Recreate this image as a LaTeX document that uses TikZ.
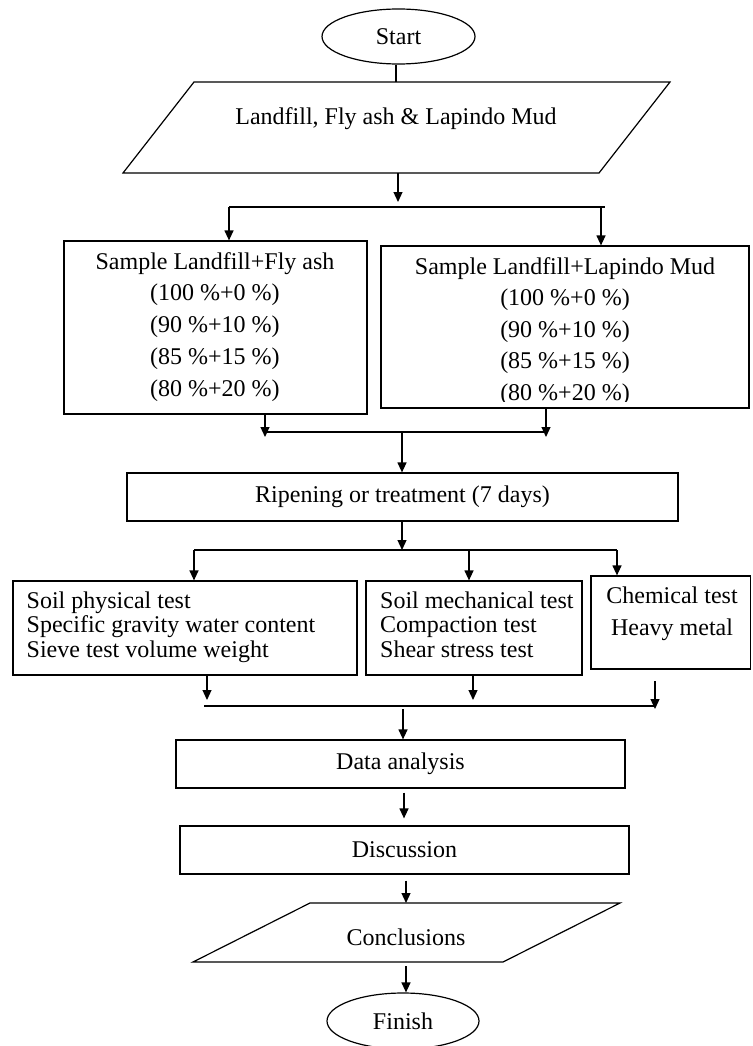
\documentclass[tikz,border=0pt]{standalone}
\usepackage{fontspec}
\setmainfont{Liberation Serif}
\usetikzlibrary{arrows.meta,shapes.geometric}
\tikzset{
  box/.style={draw, line width=1.2pt, inner sep=0pt, rectangle},
  oval/.style={draw, line width=1.2pt, inner sep=0pt, ellipse},
  para/.style={draw, line width=1.2pt, line join=miter},
  lbl/.style={inner sep=0pt, align=center},
  lblleft/.style={inner sep=0pt, align=left, anchor=west},
  conn/.style={line width=1.2pt},
  arr/.style={line width=1.2pt, -{Triangle[length=10pt,width=9pt]}},
  fat/.style={line width=2.2pt},
  f24/.style={font=\fontsize{24}{31.75}\selectfont},
}
\begin{document}
\begin{tikzpicture}[x=1pt,y=-1pt]
\useasboundingbox (0,0) rectangle (752,1046);

% Start
\node[oval, f24, minimum width=153, minimum height=55] (start) at (398.5,36.5) {Start};

% input parallelogram
\coordinate (p1a) at (194,82);
\coordinate (p1b) at (670,82);
\coordinate (p1c) at (599,173);
\coordinate (p1d) at (123,173);
\draw[para] (p1a) -- (p1b) -- (p1c) -- (p1d) -- cycle;
\node[lbl, f24] (inp) at (396,118.4) {Landfill, Fly ash \& Lapindo Mud};
\coordinate (p1n) at (396,82);
\coordinate (p1s) at (398,173);
\draw[conn] (start.south -| p1n) -- (p1n);

% split 1
\coordinate (sp) at (398,207);
\coordinate (sL) at (229,207);
\coordinate (sR) at (605,207);
\coordinate (sR2) at (601,207);
\draw[arr] (p1s) -- ([yshift=5pt]sp);
\draw[conn] (sL) -- (sR);

% sample boxes
\node[box, minimum width=303, minimum height=173] (s1) at (215.5,327.5) {};
\node[lbl, font=\fontsize{24}{31.75}\selectfont] (s1t) at (215,326.7)
  {Sample Landfill+Fly ash\\(100 \%+0 \%)\\(90 \%+10 \%)\\(85 \%+15 \%)\\(80 \%+20 \%)};
\node[box, minimum width=368, minimum height=162] (s2) at (565,327) {};
\begin{scope}
  \clip (382,247) rectangle (748,401.5);
  \node[lbl, font=\fontsize{24}{31.5}\selectfont] (s2t) at (565,331.2)
    {Sample Landfill+Lapindo Mud\\(100 \%+0 \%)\\(90 \%+10 \%)\\(85 \%+15 \%)\\(80 \%+20 \%)};
\end{scope}
\draw[arr] (sL) -- (sL |- s1.north);
\draw[arr] (sR2) -- (sR2 |- s2.north);

% merge 1
\coordinate (mL) at (265,432);
\coordinate (mR) at (546,432);
\coordinate (mC) at (402,432);
\draw[arr] (s1.south -| mL) -- ([yshift=-5pt]mL);
\draw[arr] (s2.south -| mR) -- ([yshift=-5pt]mR);
\draw[fat] (mL) -- (mR);

% ripening
\node[box, f24, minimum width=551, minimum height=48] (rip) at (402.5,497) {Ripening or treatment (7 days)};
\draw[arr] (mC) -- (mC |- rip.north);

% split 2
\coordinate (t1) at (402,550);
\coordinate (tL) at (194,550);
\coordinate (tM) at (469,550);
\coordinate (tR) at (617,550);
\draw[arr] (rip.south -| t1) -- (t1);
\draw[conn] (tL) -- (tR);

% test boxes
\node[box, minimum width=344, minimum height=94] (phys) at (185,628) {};
\node[lblleft, font=\fontsize{24}{24.5}\selectfont] (physt) at (26.5,627.2)
  {Soil physical test\\Specific gravity water content\\Sieve test volume weight};
\node[box, minimum width=216, minimum height=94] (mech) at (474,628) {};
\node[lblleft, font=\fontsize{24}{24.5}\selectfont] (mecht) at (380,624.6)
  {Soil mechanical test\\Compaction test\\Shear stress test};
\node[box, minimum width=159.5, minimum height=93] (chem) at (670.75,622.5) {};
\node[lbl, font=\fontsize{24}{31.4}\selectfont] (chemt) at (672,613.9)
  {Chemical test\\Heavy metal};
\draw[arr] (tL) -- (tL |- phys.north);
\draw[arr] (tM) -- (tM |- mech.north);
\draw[arr] (tR) -- (tR |- chem.north);

% merge 2
\coordinate (bL) at (207,700);
\coordinate (bM) at (473,700);
\coordinate (cA) at (655,681);
\coordinate (cB) at (655,709);
\coordinate (jL) at (204,706);
\coordinate (jR) at (655,706);
\draw[arr] (phys.south -| bL) -- (bL);
\draw[arr] (mech.south -| bM) -- (bM);
\draw[arr] (cA) -- (cB);
\draw[conn] (jL) -- (jR);

% data analysis
\coordinate (dA) at (403,709);
\node[box, f24, minimum width=449, minimum height=48] (data) at (400.5,764) {Data analysis};
\draw[arr] (dA) -- (dA |- data.north);

% discussion
\node[box, f24, minimum width=449, minimum height=48] (disc) at (404.5,850) {Discussion};
\coordinate (e) at (404,800);
\draw[arr, shorten <=4pt, shorten >=7pt] (data.south -| e) -- (disc.north -| e);

% conclusions parallelogram
\coordinate (p2a) at (310,903);
\coordinate (p2b) at (620,903);
\coordinate (p2c) at (503,962);
\coordinate (p2d) at (193,962);
\draw[para] (p2a) -- (p2b) -- (p2c) -- (p2d) -- cycle;
\node[lbl, f24] (concl) at (406,936.8) {Conclusions};
\coordinate (p2n) at (406,903);
\coordinate (p2s) at (406,962);
\coordinate (f) at (406,890);
\draw[arr, shorten <=6pt] (disc.south -| f) -- (p2n);

% finish
\node[oval, f24, minimum width=152, minimum height=56] (fin) at (403,1021) {Finish};
\draw[arr, shorten <=4pt] (p2s) -- (p2s |- fin.north);
\end{tikzpicture}
\end{document}
